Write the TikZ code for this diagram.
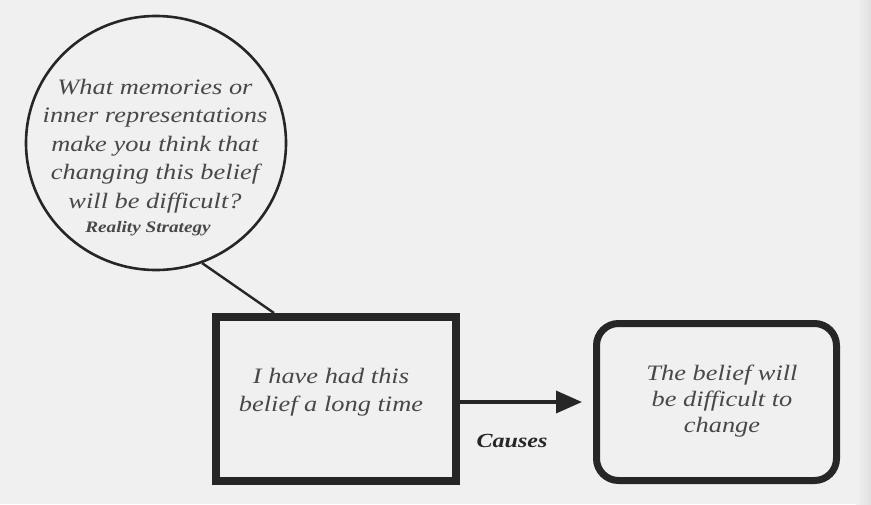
\documentclass[tikz,border=0pt]{standalone}
\usepackage{fontspec}
\setmainfont{Liberation Serif}
\newfontfamily\bookfont[FakeStretch=1.2]{Liberation Serif}
\usetikzlibrary{arrows.meta,shapes.geometric,calc}
\definecolor{paper}{RGB}{240,240,240}
\definecolor{ink}{RGB}{38,38,38}
\definecolor{textink}{RGB}{72,72,72}
\tikzset{
  bubble/.style={draw=ink, line width=2.6pt, ellipse, inner sep=0pt,
    minimum width=260pt, minimum height=254pt},
  thickbox/.style={draw=ink, line width=8pt, rectangle, inner sep=0pt,
    minimum width=240pt, minimum height=164pt},
  roundbox/.style={draw=ink, line width=7pt, rectangle, rounded corners=22pt,
    inner sep=0pt, minimum width=240pt, minimum height=157pt},
  booktext/.style={text=textink, align=center, inner sep=0pt,
    font=\bookfont\itshape\fontsize{22}{28.5}\selectfont},
  link/.style={draw=ink, line width=2.4pt},
  causearrow/.style={draw=ink, line width=3.6pt,
    -{Triangle[length=26pt,width=22pt]}},
}
\begin{document}
\begin{tikzpicture}[x=1pt,y=-1pt]
  \useasboundingbox (0,0) rectangle (871,504);
  \fill[paper] (0,0) rectangle (871,504);
  \shade[left color=paper, right color=black!12] (856,0) rectangle (871,504);

  \node[bubble] (circ) at (156,143) {};
  \node[booktext] (circtext) at (155,146)
    {What memories or\\inner representations\\make you think that\\changing this belief\\will be difficult?};
  \node[text=textink, inner sep=0pt,
    font=\bookfont\bfseries\itshape\fontsize{16}{18}\selectfont] (reality) at (148,229) {Reality Strategy};

  \node[thickbox] (have) at (336,399) {};
  \node[booktext] (havetext) at (331,392) {I have had this\\belief a long time};

  \node[roundbox] (diff) at (716.5,402) {};
  \node[booktext, font=\bookfont\itshape\fontsize{22}{26}\selectfont] (difftext) at (722,401)
    {The belief will\\be difficult to\\change};

  \draw[link] (circ.-69) -- ([xshift=62pt]have.north west);
  \draw[causearrow, shorten >=11pt] (have.east |- diff.west) -- (diff.west);
  \node[text=ink, inner sep=0pt,
    font=\bookfont\bfseries\itshape\fontsize{20}{24}\selectfont] (causes) at (512,441) {Causes};
\end{tikzpicture}
\end{document}
